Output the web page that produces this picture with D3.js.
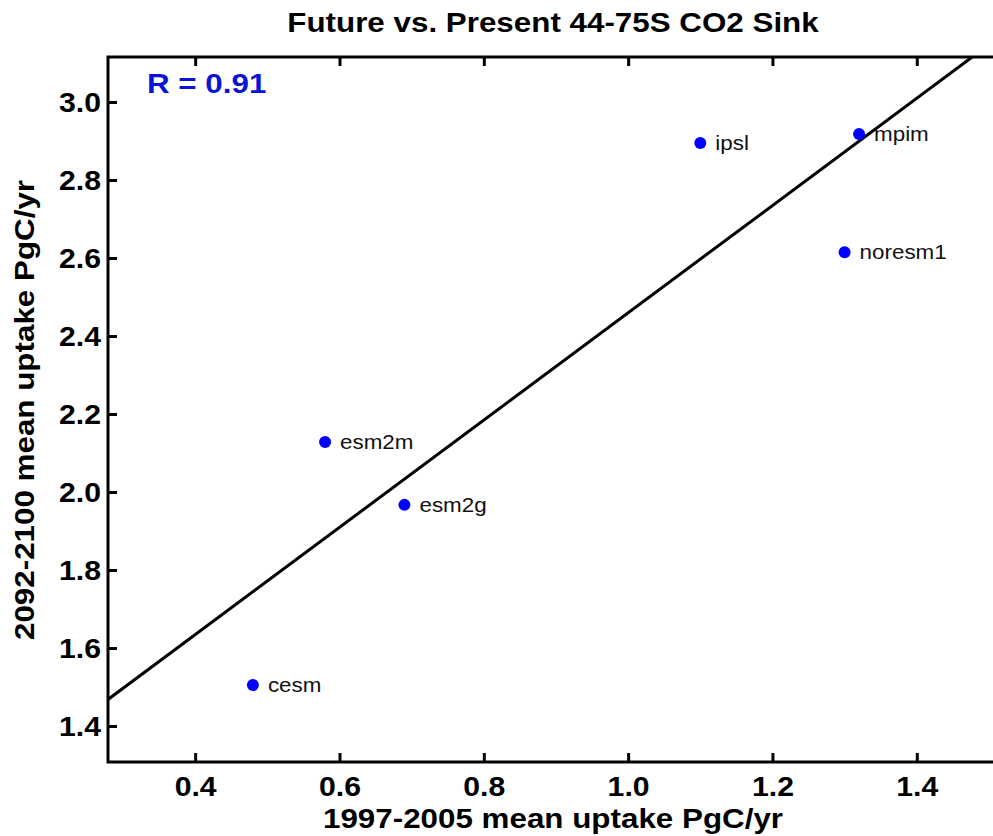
<!DOCTYPE html>
<html>
<head>
<meta charset="utf-8">
<script src="https://cdn.jsdelivr.net/npm/d3@7"></script>
<style>
  html, body { margin: 0; padding: 0; background: #fff; }
  svg { display: block; font-family: "Liberation Sans", Arial, Helvetica, sans-serif; }
</style>
</head>
<body>
<svg id="chart" width="993" height="836"></svg>
<script>
// ---- data ----
const models = ["cesm", "esm2m", "esm2g", "ipsl", "mpim", "noresm1"];
const presentUptake = [0.48, 0.58, 0.69, 1.10, 1.32, 1.30];   // 1997-2005 mean uptake PgC/yr
const futureUptake  = [1.505, 2.128, 1.967, 2.895, 2.918, 2.615]; // 2092-2100 mean uptake PgC/yr
const xTicks = [0.4, 0.6, 0.8, 1.0, 1.2, 1.4];
const yTicks = [1.4, 1.6, 1.8, 2.0, 2.2, 2.4, 2.6, 2.8, 3.0];
const titleText = "Future vs. Present 44-75S CO2 Sink";
const xLabelText = "1997-2005 mean uptake PgC/yr";
const yLabelText = "2092-2100 mean uptake PgC/yr";

// ---- layout ----
const svg = d3.select("#chart");
const pLeft = 108, pTop = 57, pBottom = 762, pRight = 1002;
const sx = 1.12; // horizontal stretch of glyphs in the reference

const x = d3.scaleLinear().domain([0.2792, 1.5181]).range([pLeft, pRight]);
const y = d3.scaleLinear().domain([1.3077, 3.1154]).range([pBottom, pTop]);

// clip
svg.append("defs").append("clipPath").attr("id", "plotclip")
  .append("rect").attr("x", pLeft).attr("y", pTop).attr("width", pRight - pLeft).attr("height", pBottom - pTop);

// regression (least squares fit of the data)
const n = models.length;
const mx = d3.mean(presentUptake), my = d3.mean(futureUptake);
let sxy = 0, sxx = 0, syy = 0;
for (let i = 0; i < n; i++) {
  const dx = presentUptake[i] - mx, dy = futureUptake[i] - my;
  sxy += dx * dy; sxx += dx * dx; syy += dy * dy;
}
const slope = sxy / sxx, intercept = my - slope * mx;
const R = sxy / Math.sqrt(sxx * syy);

const xd = x.domain();
svg.append("line")
  .attr("clip-path", "url(#plotclip)")
  .attr("x1", x(xd[0])).attr("y1", y(intercept + slope * xd[0]))
  .attr("x2", x(xd[1])).attr("y2", y(intercept + slope * xd[1]))
  .attr("stroke", "#000").attr("stroke-width", 3);

// frame
svg.append("rect").attr("x", pLeft).attr("y", pTop).attr("width", pRight - pLeft).attr("height", pBottom - pTop)
  .attr("fill", "none").attr("stroke", "#000").attr("stroke-width", 3);

// axes
const fmt = d3.format(".1f");
const xAxis = svg.append("g").attr("transform", `translate(0,${pBottom})`)
  .call(d3.axisBottom(x).tickValues(xTicks).tickFormat(fmt).tickSizeInner(-9).tickSizeOuter(0));
const xAxisTop = svg.append("g").attr("transform", `translate(0,${pTop})`)
  .call(d3.axisTop(x).tickValues(xTicks).tickFormat("").tickSizeInner(-9).tickSizeOuter(0));
const yAxis = svg.append("g").attr("transform", `translate(${pLeft},0)`)
  .call(d3.axisLeft(y).tickValues(yTicks).tickFormat(fmt).tickSizeInner(-9).tickSizeOuter(0));

[xAxis, xAxisTop, yAxis].forEach(g => {
  g.select(".domain").remove();
  g.selectAll(".tick line").attr("stroke", "#000").attr("stroke-width", 3);
  g.selectAll(".tick text").attr("fill", "#000").attr("font-size", 27).attr("font-weight", "bold")
    .attr("font-family", "'Liberation Sans', Arial, sans-serif");
});
xAxis.selectAll(".tick text").attr("dy", "0.71em").attr("y", 15).attr("transform", `scale(${sx},1)`);
yAxis.selectAll(".tick text").each(function() {
  const t = d3.select(this);
  t.attr("x", 0).attr("dy", "0.36em").attr("transform", `translate(-7,0) scale(${sx},1)`);
});

// points
const pts = svg.append("g");
pts.selectAll("circle").data(models).join("circle")
  .attr("cx", (d, i) => x(presentUptake[i]))
  .attr("cy", (d, i) => y(futureUptake[i]))
  .attr("r", 6).attr("fill", "#0000ff");
pts.selectAll("text").data(models).join("text")
  .attr("transform", (d, i) => `translate(${x(presentUptake[i]) + 15},${y(futureUptake[i]) + 7}) scale(${sx},1)`)
  .attr("font-size", 20).attr("fill", "#111").text(d => d);

// R label
svg.append("text")
  .attr("transform", `translate(147,93) scale(${sx},1)`)
  .attr("font-size", 28).attr("font-weight", "bold").attr("fill", "#0a14d8")
  .text("R = " + R.toFixed(2));

// title
svg.append("text")
  .attr("transform", `translate(553,32) scale(${sx},1)`)
  .attr("text-anchor", "middle").attr("font-size", 28).attr("font-weight", "bold").attr("fill", "#000")
  .text(titleText);

// x label
svg.append("text")
  .attr("transform", `translate(553,828) scale(${sx},1)`)
  .attr("text-anchor", "middle").attr("font-size", 28).attr("font-weight", "bold").attr("fill", "#000")
  .text(xLabelText);

// y label
svg.append("text")
  .attr("transform", `translate(34,410) rotate(-90) scale(${sx},1)`)
  .attr("text-anchor", "middle").attr("font-size", 28).attr("font-weight", "bold").attr("fill", "#000")
  .text(yLabelText);
</script>
</body>
</html>
